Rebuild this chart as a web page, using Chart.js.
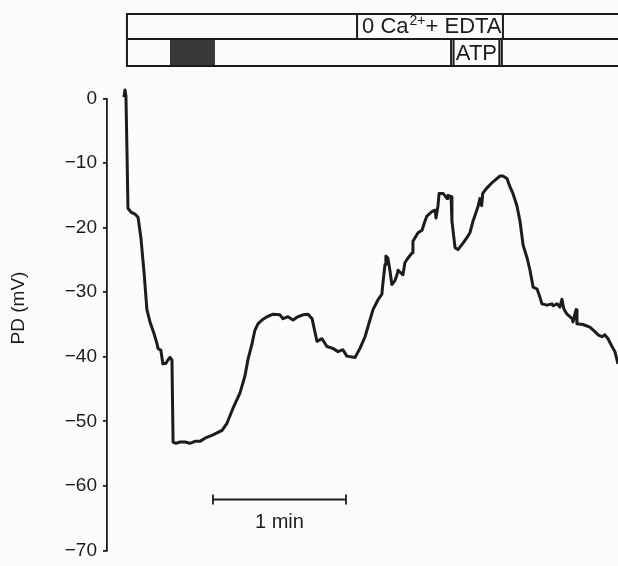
<!DOCTYPE html>
<html>
<head>
<meta charset="utf-8">
<script src="https://cdn.jsdelivr.net/npm/chart.js@4.4.1/dist/chart.umd.min.js"></script>
<style>
  html, body { margin: 0; padding: 0; background: #fcfcfc; }
  canvas { display: block; }
</style>
</head>
<body>
<canvas id="pdChart" width="618" height="566"></canvas>
<script>
// Recording: time from start of trace (s) and PD (mV)
const timeS = [
  -0.45, 0, 0.45, 0.9, 1.35, 2.7, 4.5, 5.9, 7.2, 8.6,
  9.9, 11.3, 13.1, 14.4, 14.9, 16.2, 17.1, 18.5, 19.4, 20.3,
  21.2, 21.7, 23.0, 24.8, 27.1, 29.3, 31.6, 33.8, 36.1, 39.7,
  43.8, 46.0, 48.7, 51.9, 54.1, 55.5, 57.3, 58.6, 60.0, 61.8,
  64.1, 66.8, 69.9, 71.3, 73.5, 75.8, 78.0, 80.3, 82.6, 84.4,
  86.6, 88.9, 91.1, 93.8, 96.1, 98.3, 100.1, 103.8, 106.0, 108.3,
  110.5, 111.9, 114.1, 115.9, 116.3, 117.3, 117.7, 118.6, 119.5, 120.4,
  121.8, 122.7, 123.2, 125.4, 126.3, 127.7, 129.5, 129.9, 132.2, 134.0,
  135.3, 136.2, 138.5, 139.9, 140.3, 141.2, 141.7, 143.5, 145.3, 145.7,
  147.1, 147.5, 148.9, 150.2, 152.5, 154.7, 155.6, 157.0, 159.3, 160.1,
  160.9, 161.4, 162.9, 166.0, 169.2, 170.5, 172.3, 173.7, 175.0, 176.8,
  178.2, 179.6, 181.4, 182.7, 184.1, 185.9, 187.2, 188.1, 190.4, 192.6,
  193.1, 194.9, 196.2, 197.1, 198.0, 199.4, 201.7, 202.1, 203.5, 203.9,
  206.6, 209.7, 212.0, 213.4, 215.2, 216.5, 217.9, 219.7, 221.0, 222.4
];
const pdMv = [
  0.2, 1.3, 0.4, -7.9, -17.0, -17.6, -17.9, -18.4, -21.6, -26.9,
  -32.7, -34.6, -36.4, -37.9, -38.7, -39.0, -41.1, -41.0, -40.5, -40.1,
  -40.5, -53.2, -53.4, -53.2, -53.2, -53.4, -53.1, -53.1, -52.6, -52.1,
  -51.4, -50.3, -48.0, -45.6, -43.0, -40.4, -38.0, -35.9, -34.9, -34.3,
  -33.8, -33.4, -33.5, -34.1, -33.8, -34.3, -33.8, -33.5, -33.4, -34.1,
  -37.6, -37.2, -38.4, -38.7, -39.2, -38.9, -39.9, -40.1, -38.7, -36.9,
  -34.3, -32.7, -31.2, -30.3, -28.8, -25.7, -24.4, -24.7, -26.6, -28.8,
  -28.2, -27.3, -26.6, -27.3, -25.4, -24.7, -23.9, -22.1, -20.8, -20.4,
  -19.0, -18.2, -17.5, -17.3, -18.5, -16.6, -14.7, -14.7, -15.5, -15.0,
  -15.2, -19.0, -23.1, -23.4, -22.4, -21.3, -20.8, -19.0, -16.7, -15.5,
  -16.6, -14.7, -14.0, -12.9, -12.0, -12.0, -12.4, -13.7, -14.7, -16.6,
  -19.0, -22.7, -24.7, -26.6, -29.2, -29.5, -30.8, -31.8, -32.0, -31.8,
  -32.1, -31.8, -32.3, -31.1, -32.6, -33.4, -34.1, -34.6, -32.7, -34.9,
  -35.0, -35.4, -36.1, -36.6, -36.9, -36.6, -37.2, -38.4, -39.2, -41.1
];

const yTicks = [0, -10, -20, -30, -40, -50, -60, -70];

// 1 min calibration bar (s, mV)
const scaleBarT = [39.7, 99.7];
const scaleBarMv = -62.1;

// protocol bars above the trace (s)
const protocolStartT = 0.9;
const stimT = [20.3, 40.6];     // hatched block
const edtaT = [104.7, 170.5];   // 0 Ca2+ + EDTA
const atpT = [147.1, 170.0];    // ATP

const FONT = '"Liberation Sans", Arial, sans-serif';
const INK = '#1c1c1c';

const extras = {
  id: 'extras',
  afterDraw(chart) {
    const ctx = chart.ctx;
    const px = t => chart.scales.x.getPixelForValue(t);
    const rowTop = 14, rowMid = 39, rowBot = 66;
    const x0 = px(protocolStartT), xEnd = chart.width + 4;

    ctx.save();
    // hatched stimulus block
    ctx.fillStyle = '#383838';
    ctx.fillRect(px(stimT[0]), rowMid, px(stimT[1]) - px(stimT[0]), rowBot - rowMid);

    ctx.strokeStyle = INK;
    ctx.lineWidth = 2;
    ctx.beginPath();
    [rowTop, rowMid, rowBot].forEach(y => { ctx.moveTo(x0, y); ctx.lineTo(xEnd, y); });
    ctx.moveTo(x0, rowTop - 1); ctx.lineTo(x0, rowBot + 1);
    edtaT.forEach(t => { ctx.moveTo(px(t), rowTop); ctx.lineTo(px(t), rowMid); });
    atpT.forEach((t, i) => {
      const d = i === 0 ? 2.5 : -2.5;
      ctx.moveTo(px(t), rowMid); ctx.lineTo(px(t), rowBot);
      ctx.moveTo(px(t) + d, rowMid); ctx.lineTo(px(t) + d, rowBot);
    });
    ctx.stroke();

    // labels in the protocol bars
    ctx.fillStyle = INK;
    ctx.textBaseline = 'alphabetic';
    ctx.textAlign = 'left';
    ctx.font = '22px ' + FONT;
    let tx = px(edtaT[0]) + 5;
    ctx.fillText('0 Ca', tx, 33);
    tx += ctx.measureText('0 Ca').width;
    ctx.font = '14px ' + FONT;
    ctx.fillText('2+', tx + 1, 25);
    tx += ctx.measureText('2+').width + 1;
    ctx.font = '22px ' + FONT;
    ctx.fillText('+ EDTA', tx, 33);

    ctx.textAlign = 'center';
    ctx.fillText('ATP', (px(atpT[0]) + px(atpT[1])) / 2, 60);

    // calibration label
    const y = chart.scales.y.getPixelForValue(scaleBarMv);
    ctx.font = '20px ' + FONT;
    ctx.fillText('1 min', (px(scaleBarT[0]) + px(scaleBarT[1])) / 2, y + 29);

    // y axis title
    ctx.translate(19, 308);
    ctx.rotate(-Math.PI / 2);
    ctx.textBaseline = 'middle';
    ctx.font = '19px ' + FONT;
    ctx.fillText('PD (mV)', 0, 0);
    ctx.restore();
  }
};

new Chart(document.getElementById('pdChart'), {
  type: 'line',
  data: {
    datasets: [
      {
        data: timeS.map((t, i) => ({ x: t, y: pdMv[i] })),
        borderColor: INK,
        borderWidth: 3,
        borderJoinStyle: 'round',
        pointRadius: 0,
        tension: 0,
        clip: false
      },
      {
        data: scaleBarT.map(t => ({ x: t, y: scaleBarMv })),
        borderColor: INK,
        borderWidth: 1.8,
        pointStyle: 'line',
        pointRotation: 90,
        pointRadius: 5,
        pointBorderWidth: 1.8,
        pointBorderColor: INK,
        tension: 0
      }
    ]
  },
  options: {
    responsive: false,
    animation: false,
    layout: { autoPadding: false, padding: { top: 98.5, left: 0, right: 0, bottom: 9 } },
    plugins: { legend: { display: false }, tooltip: { enabled: false } },
    scales: {
      x: { type: 'linear', display: false, min: -8.1, max: 222.4 },
      y: {
        min: -70,
        max: 0,
        afterFit(scale) { scale.width = 107; },
        afterBuildTicks(scale) { scale.ticks = yTicks.map(v => ({ value: v })); },
        border: { display: true, color: INK, width: 1.8 },
        grid: { drawOnChartArea: false, drawTicks: true, tickLength: 4, color: INK, lineWidth: 1.8 },
        ticks: {
          padding: 6,
          color: INK,
          font: { family: FONT, size: 19, lineHeight: 1 },
          callback: v => String(v).replace('-', '\u2212')
        }
      }
    }
  },
  plugins: [extras]
});
</script>
</body>
</html>
